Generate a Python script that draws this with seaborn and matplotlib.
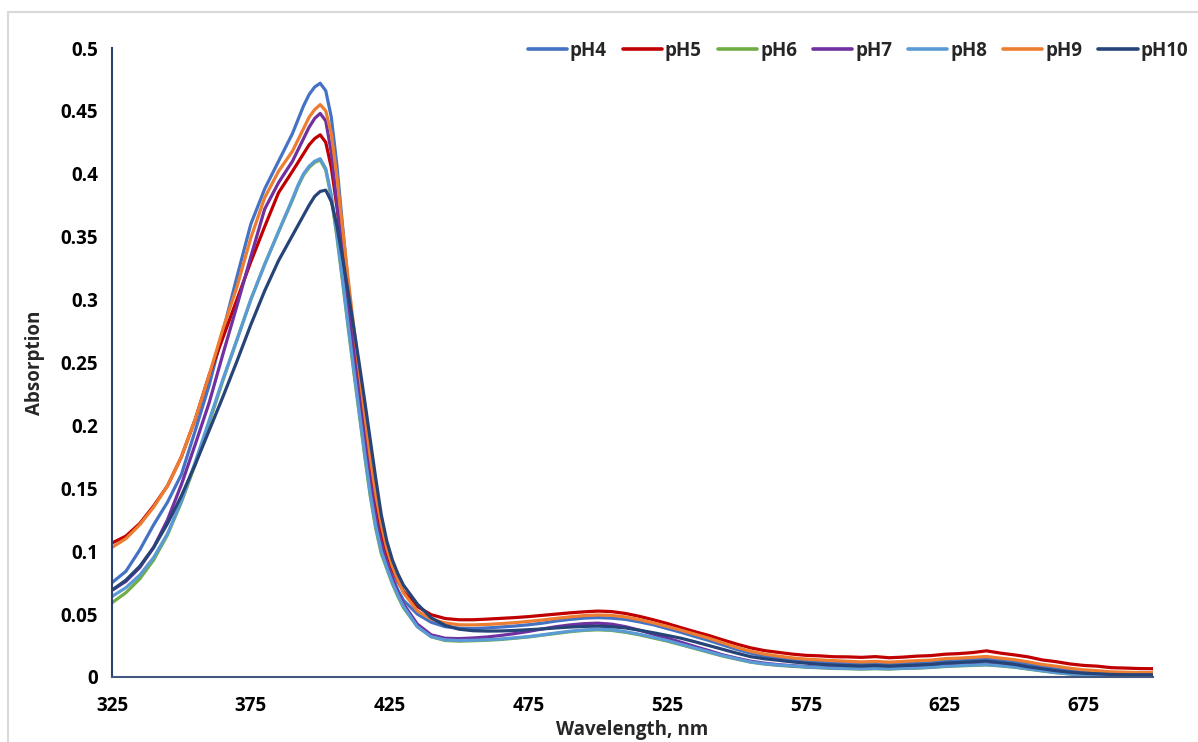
import numpy as np
import pandas as pd
import matplotlib
matplotlib.use("Agg")
import matplotlib.pyplot as plt
import seaborn as sns
from matplotlib.patches import Rectangle

# ---------------- data ----------------
wavelength = (list(range(325, 390, 5)) + list(range(390, 431, 2)) + list(range(435, 701, 5)))

pH4 = [0.075, 0.084, 0.101, 0.121, 0.139, 0.161, 0.196, 0.232, 0.275, 0.318, 0.360, 0.388, 0.410,
       0.432, 0.443, 0.454, 0.463, 0.469, 0.472, 0.466, 0.445, 0.407, 0.360, 0.313, 0.269, 0.230, 0.195, 0.162, 0.133, 0.110, 0.093, 0.080, 0.069, 0.061,
       0.050, 0.0435, 0.040, 0.0388, 0.0385, 0.0390, 0.0397, 0.0405, 0.0415, 0.0428, 0.0445, 0.0458, 0.0468, 0.0472, 0.0468, 0.0458, 0.0438, 0.0415,
       0.0385, 0.0355, 0.0322, 0.0290, 0.0255, 0.0220, 0.0190, 0.0165, 0.0150, 0.0136, 0.0125, 0.0118, 0.0112, 0.0106, 0.0103, 0.0106, 0.0101,
       0.0107, 0.0110, 0.0114, 0.0126, 0.0130, 0.0138, 0.0142, 0.0131, 0.0121, 0.0102, 0.0083, 0.0066, 0.0052, 0.0042, 0.0036, 0.0030, 0.0029,
       0.0025, 0.0026]
pH5 = [0.1065, 0.112, 0.122, 0.136, 0.152, 0.175, 0.205, 0.240, 0.270, 0.300, 0.330, 0.358, 0.385,
       0.402, 0.409, 0.416, 0.423, 0.428, 0.431, 0.425, 0.405, 0.374, 0.339, 0.303, 0.268, 0.234, 0.200, 0.168, 0.139, 0.116, 0.099, 0.086, 0.076, 0.068,
       0.056, 0.0495, 0.0465, 0.0455, 0.0455, 0.0460, 0.0466, 0.0472, 0.0480, 0.0490, 0.0500, 0.0510, 0.0518, 0.0524, 0.0520, 0.0505, 0.0482, 0.0455,
       0.0425, 0.0392, 0.0360, 0.0330, 0.0295, 0.0262, 0.0232, 0.0210, 0.0196, 0.0182, 0.0172, 0.0168, 0.0161, 0.0160, 0.0156, 0.0162, 0.0153,
       0.0158, 0.0166, 0.0170, 0.0181, 0.0186, 0.0194, 0.0208, 0.0190, 0.0176, 0.0160, 0.0136, 0.0122, 0.0104, 0.0092, 0.0086, 0.0074, 0.0071,
       0.0067, 0.0066]
pH6 = [0.059, 0.067, 0.078, 0.093, 0.113, 0.139, 0.169, 0.202, 0.236, 0.268, 0.300, 0.328, 0.354,
       0.379, 0.390, 0.399, 0.405, 0.409, 0.411, 0.403, 0.381, 0.350, 0.315, 0.279, 0.244, 0.210, 0.176, 0.144, 0.118, 0.098, 0.086, 0.074, 0.064, 0.055,
       0.040, 0.032, 0.029, 0.0285, 0.0288, 0.0292, 0.0298, 0.0308, 0.0318, 0.0332, 0.0346, 0.0360, 0.0370, 0.0375, 0.0370, 0.0355, 0.0335, 0.0310,
       0.0285, 0.0256, 0.0226, 0.0196, 0.0166, 0.0142, 0.0118, 0.0103, 0.0092, 0.0085, 0.0078, 0.0073, 0.0068, 0.0066, 0.0063, 0.0066, 0.0063,
       0.0068, 0.0070, 0.0076, 0.0083, 0.0088, 0.0092, 0.0096, 0.0088, 0.0078, 0.0063, 0.0048, 0.0034, 0.0024, 0.0014, 0.0010, 0.0009, 0.0007,
       0.0007, 0.0007]
pH7 = [0.069, 0.076, 0.087, 0.103, 0.125, 0.153, 0.185, 0.218, 0.257, 0.295, 0.334, 0.372, 0.393,
       0.410, 0.419, 0.428, 0.437, 0.444, 0.448, 0.442, 0.417, 0.377, 0.336, 0.297, 0.259, 0.223, 0.189, 0.156, 0.127, 0.105, 0.090, 0.078, 0.067, 0.058,
       0.042, 0.0335, 0.0308, 0.0305, 0.0310, 0.0318, 0.0330, 0.0345, 0.0362, 0.0382, 0.0400, 0.0414, 0.0424, 0.0428, 0.0420, 0.0400, 0.0372, 0.0340,
       0.0308, 0.0276, 0.0242, 0.0210, 0.0176, 0.0150, 0.0126, 0.0110, 0.0098, 0.0090, 0.0083, 0.0078, 0.0073, 0.0071, 0.0068, 0.0071, 0.0068,
       0.0073, 0.0076, 0.0081, 0.0089, 0.0094, 0.0099, 0.0102, 0.0094, 0.0084, 0.0069, 0.0054, 0.0040, 0.0029, 0.0019, 0.0014, 0.0012, 0.0010,
       0.0010, 0.0010]
pH8 = [0.064, 0.071, 0.081, 0.095, 0.114, 0.140, 0.171, 0.204, 0.237, 0.268, 0.300, 0.328, 0.354,
       0.380, 0.391, 0.400, 0.406, 0.410, 0.412, 0.404, 0.383, 0.352, 0.317, 0.281, 0.246, 0.212, 0.178, 0.146, 0.120, 0.100, 0.087, 0.075, 0.065, 0.056,
       0.040, 0.032, 0.0295, 0.0290, 0.0292, 0.0296, 0.0302, 0.0311, 0.0321, 0.0335, 0.0350, 0.0364, 0.0374, 0.0380, 0.0375, 0.0360, 0.0340, 0.0315,
       0.0290, 0.0260, 0.0230, 0.0200, 0.0170, 0.0145, 0.0120, 0.0105, 0.0095, 0.0088, 0.0080, 0.0075, 0.0070, 0.0068, 0.0065, 0.0068, 0.0065,
       0.0070, 0.0072, 0.0078, 0.0085, 0.0090, 0.0095, 0.0098, 0.0090, 0.0080, 0.0065, 0.0050, 0.0035, 0.0025, 0.0015, 0.0010, 0.0010, 0.0008,
       0.0008, 0.0008]
pH9 = [0.103, 0.110, 0.121, 0.135, 0.152, 0.175, 0.205, 0.240, 0.277, 0.310, 0.349, 0.381, 0.402,
       0.418, 0.427, 0.436, 0.445, 0.451, 0.455, 0.450, 0.432, 0.398, 0.358, 0.318, 0.280, 0.244, 0.209, 0.175, 0.145, 0.121, 0.102, 0.088, 0.077, 0.067,
       0.0525, 0.0460, 0.0430, 0.0415, 0.0414, 0.0418, 0.0424, 0.0432, 0.0442, 0.0453, 0.0466, 0.0478, 0.0488, 0.0493, 0.0490, 0.0477, 0.0456, 0.0430,
       0.0402, 0.0372, 0.0340, 0.0308, 0.0272, 0.0235, 0.0205, 0.0182, 0.0166, 0.0152, 0.0142, 0.0136, 0.0130, 0.0125, 0.0120, 0.0124, 0.0118,
       0.0124, 0.0130, 0.0134, 0.0146, 0.0150, 0.0156, 0.0163, 0.0150, 0.0138, 0.0120, 0.0100, 0.0086, 0.0070, 0.0057, 0.0050, 0.0041, 0.0038,
       0.0035, 0.0035]
pH10 = [0.069, 0.077, 0.088, 0.103, 0.122, 0.144, 0.169, 0.196, 0.223, 0.251, 0.280, 0.307, 0.331,
        0.351, 0.359, 0.367, 0.375, 0.382, 0.386, 0.387, 0.378, 0.359, 0.334, 0.307, 0.279, 0.250, 0.220, 0.189, 0.158, 0.129, 0.108, 0.093, 0.082, 0.073,
        0.058, 0.047, 0.041, 0.0380, 0.0368, 0.0365, 0.0366, 0.0370, 0.0376, 0.0382, 0.0390, 0.0397, 0.0402, 0.0405, 0.0400, 0.0390, 0.0372, 0.0352,
        0.0330, 0.0308, 0.0280, 0.0250, 0.0220, 0.0190, 0.0162, 0.0145, 0.0133, 0.0120, 0.0110, 0.0101, 0.0095, 0.0090, 0.0087, 0.0091, 0.0086,
        0.0091, 0.0095, 0.0100, 0.0110, 0.0115, 0.0121, 0.0126, 0.0114, 0.0101, 0.0081, 0.0066, 0.0050, 0.0038, 0.0030, 0.0025, 0.0020, 0.0018,
        0.0018, 0.0018]

series_names = ["pH4", "pH5", "pH6", "pH7", "pH8", "pH9", "pH10"]
series_values = [pH4, pH5, pH6, pH7, pH8, pH9, pH10]
colors = ["#4472C4", "#C00000", "#70AD47", "#7030A0", "#5B9BD5", "#ED7D31", "#264478"]

x_ticks = [325, 375, 425, 475, 525, 575, 625, 675]
y_ticks = [0, 0.05, 0.1, 0.15, 0.2, 0.25, 0.3, 0.35, 0.4, 0.45, 0.5]
y_tick_labels = ["0", "0.05", "0.1", "0.15", "0.2", "0.25", "0.3", "0.35", "0.4", "0.45", "0.5"]

# ---------------- frame ----------------
rows = []
for name, vals in zip(series_names, series_values):
    assert len(vals) == len(wavelength), (name, len(vals), len(wavelength))
    for w, v in zip(wavelength, vals):
        rows.append((w, v, name))
df = pd.DataFrame(rows, columns=["Wavelength", "Absorption", "Series"])

sns.set_style("white")
plt.rcParams["font.family"] = ["Open Sans", "DejaVu Sans"]
plt.rcParams["font.weight"] = "bold"

W, H = 1198, 742
fig = plt.figure(figsize=(W / 100, H / 100), dpi=100)
fig.patch.set_facecolor("white")
# chart-area border (light grey)
fig.patches.append(Rectangle((8 / W, -0.1), 1.2, 1 - 12 / H + 0.1, transform=fig.transFigure,
                             fill=False, edgecolor="#D9D9D9", linewidth=1.5))

ax = fig.add_axes([112 / W, 1 - 677 / H, (1153 - 112) / W, (677 - 48) / H])
sns.lineplot(data=df, x="Wavelength", y="Absorption", hue="Series", hue_order=series_names,
             palette=colors, estimator=None, sort=False, linewidth=2.3, ax=ax)

ax.set_xlim(325, 700)
ax.set_ylim(0, 0.5)
ax.set_xticks(x_ticks)
ax.set_xticklabels([str(t) for t in x_ticks])
ax.set_yticks(y_ticks)
ax.set_yticklabels(y_tick_labels)
ax.tick_params(axis="both", length=0, labelsize=13.5, colors="black")
ax.tick_params(axis="y", pad=10)
ax.tick_params(axis="x", pad=14)
for lab in ax.get_xticklabels() + ax.get_yticklabels():
    lab.set_fontweight("bold")

for s in ["top", "right"]:
    ax.spines[s].set_visible(False)
ax.spines["left"].set_color("#2B3F6E")
ax.spines["bottom"].set_color("#44587F")
ax.spines["left"].set_linewidth(1.5)
ax.spines["bottom"].set_linewidth(1.5)
ax.grid(False)

ax.set_xlabel("Wavelength, nm", fontsize=13.5, fontweight="bold")
ax.set_ylabel("Absorption", fontsize=13.5, fontweight="bold")
ax.xaxis.set_label_coords(0.5, -0.069)
ax.yaxis.set_label_coords(-0.064, 0.5)

leg = ax.legend(ncol=7, frameon=False, loc="center right",
                bbox_to_anchor=(1188 / W, 1 - 51 / H), bbox_transform=fig.transFigure,
                handlelength=2.1, handletextpad=0.15, columnspacing=0.85,
                borderpad=0, borderaxespad=0,
                prop={"family": "Open Sans", "weight": "bold", "size": 13.5})
for line in leg.get_lines():
    line.set_linewidth(2.6)

fig.savefig("out.png", dpi=100, facecolor="white")
